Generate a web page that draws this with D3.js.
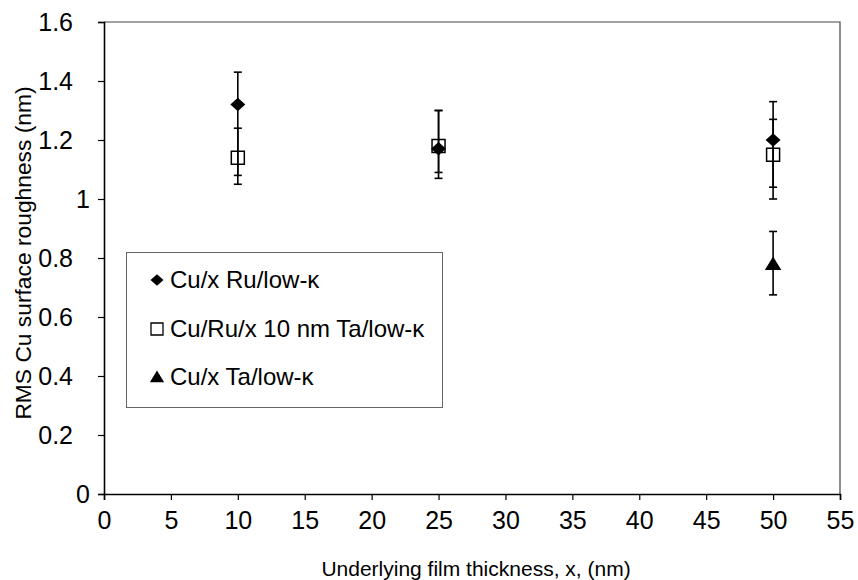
<!DOCTYPE html>
<html>
<head>
<meta charset="utf-8">
<script src="https://cdn.jsdelivr.net/npm/d3@7"></script>
<style>
  html, body { margin: 0; padding: 0; background: #fff; }
  svg { display: block; font-family: "Liberation Sans", Arial, sans-serif; }
</style>
</head>
<body>
<svg id="chart" width="858" height="580"></svg>
<script>
// Film thickness (nm) for each series
const ruX = [10, 25, 50];
const ruY = [1.32, 1.17, 1.20];
const ruLow = [1.08, 1.07, 1.04];
const ruHigh = [1.43, 1.30, 1.33];

const ruTaX = [10, 25, 50];
const ruTaY = [1.14, 1.18, 1.15];
const ruTaLow = [1.05, 1.09, 1.00];
const ruTaHigh = [1.24, 1.30, 1.27];

const taX = [50];
const taY = [0.78];
const taLow = [0.675];
const taHigh = [0.89];

const xTicks = [0, 5, 10, 15, 20, 25, 30, 35, 40, 45, 50, 55];
const yTicks = [0, 0.2, 0.4, 0.6, 0.8, 1, 1.2, 1.4, 1.6];

const seriesNames = ["Cu/x Ru/low-\u03ba", "Cu/Ru/x 10 nm Ta/low-\u03ba", "Cu/x Ta/low-\u03ba"];

const svg = d3.select("#chart");
const m = { left: 104, right: 840, top: 22, bottom: 494 };

const x = d3.scaleLinear().domain([0, 55]).range([m.left, m.right]);
const y = d3.scaleLinear().domain([0, 1.6]).range([m.bottom, m.top]);

// plot frame: top and right edges
svg.append("path")
  .attr("d", `M${m.left},${m.top}H${m.right}V${m.bottom}`)
  .attr("fill", "none").attr("stroke", "#444").attr("stroke-width", 1.2);

// axes
const xAxis = svg.append("g").attr("transform", `translate(0,${m.bottom})`)
  .call(d3.axisBottom(x).tickValues(xTicks).tickSize(6).tickPadding(11).tickFormat(d3.format("d")));
const yAxis = svg.append("g").attr("transform", `translate(${m.left},0)`)
  .call(d3.axisLeft(y).tickValues(yTicks).tickSize(6).tickPadding(12).tickFormat(d => String(d)));

[xAxis, yAxis].forEach(g => {
  g.select(".domain").attr("stroke", "#000").attr("stroke-width", 1.6);
  g.selectAll(".tick line").attr("stroke", "#000").attr("stroke-width", 1.2);
  g.selectAll(".tick text").attr("fill", "#000").attr("font-size", 25)
    .attr("font-family", "'Liberation Sans', Arial, sans-serif");
});
// whole-number labels sit closer to the axis than the decimal ones
yAxis.selectAll(".tick text").attr("x", d => Number.isInteger(d) ? -14 : -31);

// axis titles
svg.append("text")
  .attr("x", 476).attr("y", 576)
  .attr("text-anchor", "middle").attr("font-size", 21)
  .text("Underlying film thickness, x, (nm)");
svg.append("text")
  .attr("transform", `translate(31,253) rotate(-90)`)
  .attr("text-anchor", "middle").attr("font-size", 22.8)
  .text("RMS Cu surface roughness (nm)");

// marker shapes
const diamond = s => `M0,${-s * 0.45}L${s * 0.5},0L0,${s * 0.45}L${-s * 0.5},0Z`;
const square = s => `M${-s / 2},${-s / 2}H${s / 2}V${s / 2}H${-s / 2}Z`;
const triangle = s => `M0,${-s * 0.5}L${s * 0.55},${s * 0.4}L${-s * 0.55},${s * 0.4}Z`;

function errorBars(xs, lows, highs) {
  const g = svg.append("g").attr("stroke", "#000").attr("stroke-width", 1.6);
  xs.forEach((v, i) => {
    const cx = x(v), y0 = y(lows[i]), y1 = y(highs[i]);
    g.append("line").attr("x1", cx).attr("x2", cx).attr("y1", y0).attr("y2", y1);
    [y0, y1].forEach(yy => g.append("line")
      .attr("x1", cx - 4).attr("x2", cx + 4).attr("y1", yy).attr("y2", yy));
  });
}

errorBars(ruTaX, ruTaLow, ruTaHigh);
errorBars(ruX, ruLow, ruHigh);
errorBars(taX, taLow, taHigh);

// square markers (open)
svg.append("g").selectAll("path").data(ruTaX).join("path")
  .attr("transform", (d, i) => `translate(${x(d)},${y(ruTaY[i])})`)
  .attr("d", square(13)).attr("fill", "none").attr("stroke", "#000").attr("stroke-width", 1.5);

// diamond markers
svg.append("g").selectAll("path").data(ruX).join("path")
  .attr("transform", (d, i) => `translate(${x(d)},${y(ruY[i])})`)
  .attr("d", diamond(15)).attr("fill", "#000");

// triangle markers
svg.append("g").selectAll("path").data(taX).join("path")
  .attr("transform", (d, i) => `translate(${x(d)},${y(taY[i])})`)
  .attr("d", triangle(15)).attr("fill", "#000");

// legend
const leg = svg.append("g");
leg.append("rect").attr("x", 126.5).attr("y", 252.5).attr("width", 316).attr("height", 155)
  .attr("fill", "#fff").attr("stroke", "#666").attr("stroke-width", 1);
const legShapes = [
  { d: diamond(13), fill: "#000", stroke: "none" },
  { d: square(12), fill: "none", stroke: "#000" },
  { d: triangle(13), fill: "#000", stroke: "none" }
];
const rowY = [280, 329, 377];
seriesNames.forEach((name, i) => {
  leg.append("path").attr("transform", `translate(157,${rowY[i]})`)
    .attr("d", legShapes[i].d).attr("fill", legShapes[i].fill)
    .attr("stroke", legShapes[i].stroke).attr("stroke-width", 1.3);
  leg.append("text").attr("x", 170).attr("y", rowY[i] + 8)
    .attr("font-size", 24).text(name);
});
</script>
</body>
</html>
